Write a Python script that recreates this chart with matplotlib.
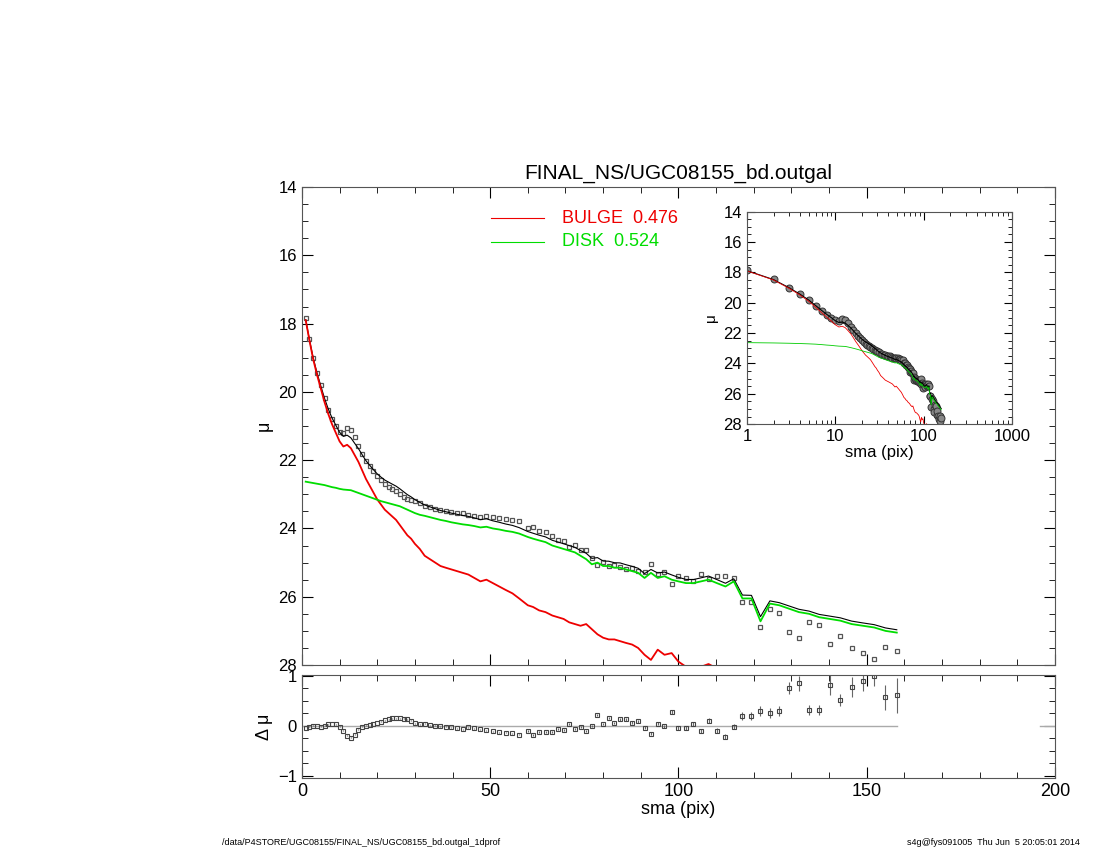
import matplotlib

matplotlib.use("Agg")

import matplotlib.pyplot as plt  # noqa: E402
import numpy as np  # noqa: E402
from matplotlib.ticker import MultipleLocator, LogLocator, NullFormatter  # noqa: E402

plt.rcParams["font.family"] = ["Liberation Sans", "DejaVu Sans"]

TITLE = "FINAL_NS/UGC08155_bd.outgal"
FOOT_LEFT = "/data/P4STORE/UGC08155/FINAL_NS/UGC08155_bd.outgal_1dprof"
FOOT_RIGHT = "s4g@fys091005  Thu Jun  5 20:05:01 2014"
BULGE_LABEL = "BULGE  0.476"
DISK_LABEL = "DISK  0.524"

sma = [
    1, 2, 3, 4, 5, 6, 7, 8, 9, 10, 11, 12, 13, 14, 15, 16, 17, 18, 19, 20,
    21, 22, 23, 24, 25, 26, 27, 28, 29, 30,
    31.3, 32.6, 34, 35.4, 36.8, 38.2, 39.7, 41.2, 42.7, 44.2, 45.8, 47.4,
    49, 50.7, 52.4, 54.1, 55.9, 57.7,
    60, 61.4, 63, 64.7, 66.5, 68, 69.5, 71, 72.5, 74, 75.5, 77, 78.5, 80,
    81.5, 83, 84.5, 86, 87.7, 89.3, 91, 92.7, 94.5, 96.3, 98.2, 100, 102,
    104, 106, 108, 110.2, 112.5, 114.7, 117, 119.4, 121.8, 124.3, 126.8,
    129.4, 132, 134.7, 137.4, 140.2, 143, 146, 149, 152, 155, 158,
]

bulge_mu = [
    17.9, 18.5, 19.05, 19.5, 19.9, 20.3, 20.65, 20.95, 21.2, 21.45, 21.6,
    21.55, 21.65, 21.85, 22.05, 22.3, 22.55, 22.75, 22.95, 23.15,
    23.3, 23.45, 23.55, 23.65, 23.75, 23.9, 24.05, 24.2, 24.3, 24.45,
    24.6, 24.8, 24.9, 25.0, 25.1, 25.15, 25.2, 25.25, 25.3, 25.35, 25.45,
    25.55, 25.5, 25.6, 25.7, 25.8, 25.9, 26.05,
    26.25, 26.3, 26.4, 26.45, 26.55, 26.6, 26.65, 26.75, 26.8, 26.85, 26.8,
    26.95, 27.1, 27.2, 27.25, 27.25, 27.3, 27.35, 27.4, 27.5, 27.7, 27.85,
    27.55, 27.7, 27.65, 27.9, 28.05, 28.1, 28.05, 27.97, 28.1, 28.3, 28.4,
    28.6, 28.7, 28.9, 29.0, 29.1, 29.15, 29.2, 29.3, 29.35, 29.4, 29.45,
    29.5, 29.6, 29.65, 29.7, 29.8,
]

disk_mu = [
    22.63, 22.65, 22.67, 22.69, 22.71, 22.73, 22.76, 22.79, 22.81, 22.84,
    22.86, 22.87, 22.88, 22.92, 22.96, 23.0, 23.04, 23.08, 23.12, 23.16,
    23.2, 23.23, 23.26, 23.29, 23.32, 23.35, 23.4, 23.45, 23.5, 23.55,
    23.6, 23.63, 23.67, 23.71, 23.75, 23.78, 23.82, 23.85, 23.88, 23.9,
    23.93, 23.97, 23.95, 24.0, 24.03, 24.07, 24.1, 24.15,
    24.25, 24.3, 24.35, 24.4, 24.5, 24.55, 24.6, 24.65, 24.7, 24.8, 24.9,
    25.05, 25.0, 25.1, 25.1, 25.15, 25.15, 25.2, 25.25, 25.3, 25.45, 25.3,
    25.45, 25.4, 25.5, 25.55, 25.6, 25.6, 25.55, 25.5, 25.6, 25.7, 25.55,
    26.05, 26.05, 26.72, 26.2, 26.25, 26.35, 26.45, 26.5, 26.6, 26.65,
    26.7, 26.8, 26.85, 26.9, 27.0, 27.05,
]

resid = [
    -0.05, -0.02, 0.0, -0.01, -0.02, 0.0, 0.03, 0.04, 0.03, -0.02, -0.1,
    -0.2, -0.24, -0.18, -0.08, -0.02, 0.0, 0.02, 0.04, 0.06,
    0.08, 0.11, 0.13, 0.15, 0.15, 0.15, 0.14, 0.13, 0.1, 0.05,
    0.03, 0.04, 0.01, 0.0, -0.01, -0.02, -0.03, -0.05, -0.07, -0.03, -0.05,
    -0.07, -0.09, -0.11, -0.13, -0.14, -0.15, -0.18,
    -0.1, -0.18, -0.12, -0.13, -0.12, -0.07, -0.08, 0.03, -0.07, -0.03,
    -0.1, 0.0, 0.21, 0.03, 0.15, 0.06, 0.13, 0.13, 0.06, 0.09, -0.04,
    -0.16, 0.04, -0.01, 0.27, -0.05, -0.05, 0.03, -0.1, 0.1, -0.1, -0.22,
    -0.02, 0.19, 0.19, 0.29, 0.25, 0.3, 0.76, 0.85, 0.31, 0.32, 0.81,
    0.52, 0.78, 0.89, 1.0, 0.57, 0.61,
]

resid_err = [
    0.005, 0.005, 0.005, 0.005, 0.005, 0.005, 0.005, 0.005, 0.005, 0.005,
    0.005, 0.005, 0.005, 0.005, 0.005, 0.005, 0.005, 0.005, 0.005, 0.005,
    0.01, 0.01, 0.01, 0.01, 0.01, 0.01, 0.01, 0.01, 0.01, 0.01,
    0.01, 0.01, 0.01, 0.01, 0.01, 0.01, 0.01, 0.01, 0.01, 0.01, 0.01,
    0.01, 0.01, 0.01, 0.01, 0.01, 0.01, 0.01,
    0.02, 0.02, 0.02, 0.02, 0.02, 0.02, 0.02, 0.02, 0.02, 0.02, 0.02,
    0.02, 0.02, 0.02, 0.02, 0.02, 0.03, 0.03, 0.03, 0.03, 0.03, 0.03,
    0.03, 0.03, 0.04, 0.04, 0.04, 0.04, 0.04, 0.05, 0.05, 0.05, 0.05,
    0.08, 0.08, 0.1, 0.1, 0.1, 0.12, 0.15, 0.1, 0.1, 0.2, 0.12, 0.2,
    0.2, 0.2, 0.25, 0.35,
]


def _total_mu(b, d):
    # sum the two components in flux, back to magnitudes
    b = np.asarray(b)
    d = np.asarray(d)
    return -2.5 * np.log10(10 ** (-0.4 * b) + 10 ** (-0.4 * d))


def _idl_ticks(ax, minor_x=None, minor_y=None):
    ax.tick_params(which="both", direction="in", top=True, right=True,
                   labelsize=12)
    ax.tick_params(which="major", length=8)
    ax.tick_params(which="minor", length=4)
    if minor_x is not None:
        ax.xaxis.set_minor_locator(MultipleLocator(minor_x))
    if minor_y is not None:
        ax.yaxis.set_minor_locator(MultipleLocator(minor_y))
    for spine in ax.spines.values():
        spine.set_color("#555555")


def main() -> None:
    x = np.asarray(sma)
    total = _total_mu(bulge_mu, disk_mu)
    obs = total + np.asarray(resid)

    fig = plt.figure(figsize=(11, 8.5), dpi=100)

    ax = fig.add_axes([0.2745, 0.2176, 0.6845, 0.5624])
    ax.plot(x, obs, "s", ms=3.2, mfc="none", mec="#555555", mew=0.9)
    ax.plot(x, total, color="black", lw=0.8)
    ax.plot(x, bulge_mu, color="#ee0000", lw=1.3)
    ax.plot(x, disk_mu, color="#00dd00", lw=1.3)
    ax.set_xlim(0, 200)
    ax.set_ylim(28, 14)
    ax.xaxis.set_major_locator(MultipleLocator(50))
    ax.yaxis.set_major_locator(MultipleLocator(2))
    _idl_ticks(ax, 10, 0.5)
    ax.set_xticklabels([])
    ax.set_ylabel("μ", fontsize=13)
    ax.set_title(TITLE, fontsize=15, pad=6)

    ax.plot([0.251, 0.322], [0.935, 0.935], transform=ax.transAxes,
            color="#ee0000", lw=0.8)
    ax.text(0.346, 0.935, BULGE_LABEL, transform=ax.transAxes,
            color="#ee0000", fontsize=13, va="center")
    ax.plot([0.251, 0.322], [0.885, 0.885], transform=ax.transAxes,
            color="#00dd00", lw=0.8)
    ax.text(0.346, 0.885, DISK_LABEL, transform=ax.transAxes,
            color="#00dd00", fontsize=13, va="center")

    inset = fig.add_axes([0.679, 0.501, 0.241, 0.250])
    inset.plot(x, obs, "o", ms=5, mfc="#888888", mec="#333333", mew=0.7)
    inset.plot(x, total, color="black", lw=0.8)
    inset.plot(x, bulge_mu, color="#ee0000", lw=0.6)
    inset.plot(x, disk_mu, color="#00cc00", lw=0.6)
    inset.set_xscale("log")
    inset.set_xlim(1, 1000)
    inset.set_ylim(28, 14)
    inset.yaxis.set_major_locator(MultipleLocator(2))
    inset.xaxis.set_minor_locator(LogLocator(base=10, subs=np.arange(2, 10)))
    inset.xaxis.set_minor_formatter(NullFormatter())
    inset.set_xticks([1, 10, 100, 1000])
    inset.set_xticklabels(["1", "10", "100", "1000"])
    _idl_ticks(inset, None, 0.5)
    inset.tick_params(which="major", length=6)
    inset.tick_params(which="minor", length=3)
    inset.set_xlabel("sma (pix)", fontsize=12, labelpad=1)
    inset.set_ylabel("μ", fontsize=11)

    res = fig.add_axes([0.2745, 0.0847, 0.6845, 0.1212])
    res.plot([0, 158], [0, 0], color="#aaaaaa", lw=1.0)
    res.plot([196, 200], [0, 0], color="#aaaaaa", lw=1.0)
    res.errorbar(x, resid, yerr=resid_err, fmt="s", ms=2.8, mfc="none",
                 mec="#444444", mew=0.8, ecolor="#666666", elinewidth=0.8,
                 capsize=0)
    res.set_xlim(0, 200)
    res.set_ylim(-1.05, 1.02)
    res.set_yticks([-1, 0, 1])
    res.xaxis.set_major_locator(MultipleLocator(50))
    _idl_ticks(res, 10, 0.25)
    res.tick_params(axis="x", labelsize=13)
    res.set_xlabel("sma (pix)", fontsize=13, labelpad=1)
    res.set_ylabel("Δ μ", fontsize=13)

    fig.text(0.202, 0.003, FOOT_LEFT, fontsize=6.5, va="bottom")
    fig.text(0.982, 0.003, FOOT_RIGHT, fontsize=6.5, va="bottom", ha="right")

    fig.savefig("out.png", dpi=100)
    plt.close(fig)


if __name__ == "__main__":
    main()
